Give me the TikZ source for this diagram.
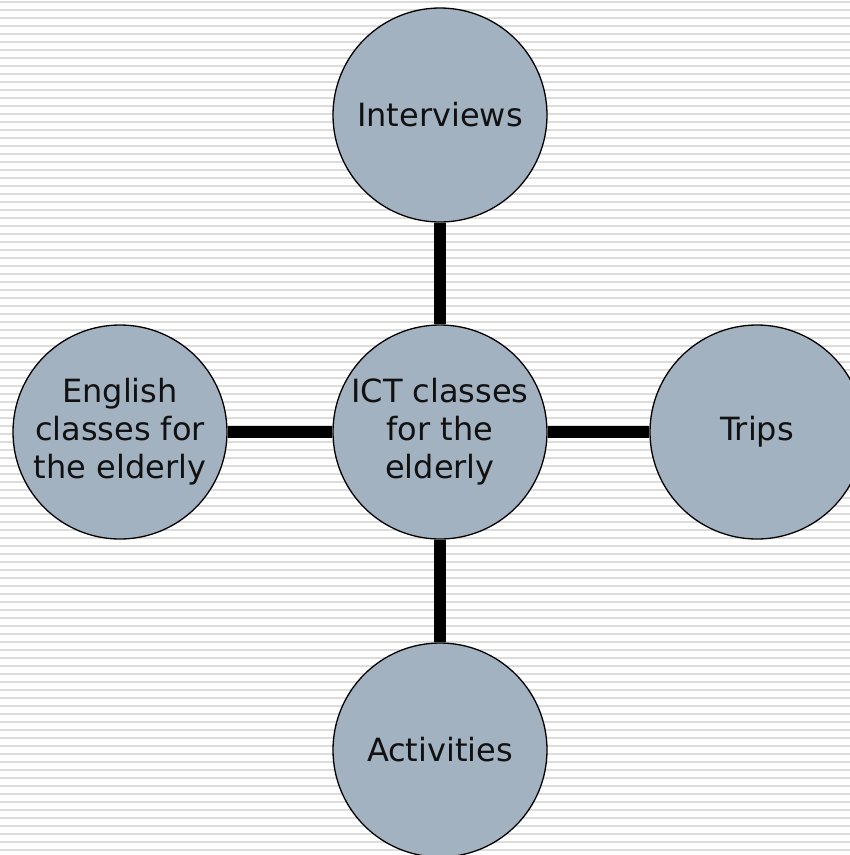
\documentclass[tikz,border=0pt]{standalone}
\usepackage{fontspec}
\setmainfont{DejaVu Sans}
\definecolor{stripe}{HTML}{DCDCDC}
\definecolor{bubble}{HTML}{A3B2C1}
\definecolor{ink}{HTML}{111111}
\begin{document}
\begin{tikzpicture}[x=1pt,y=-1pt,
  bubblenode/.style={circle, draw=black, line width=1.3pt, fill=bubble,
    minimum size=214pt, inner sep=0pt, align=center, text=ink,
    font=\fontsize{32}{38}\selectfont},
  link/.style={line width=12pt, draw=black}]
\useasboundingbox (0,0) rectangle (850,855);
\clip (0,0) rectangle (850,855);
\fill[white] (0,0) rectangle (850,855);
\foreach \k in {0,...,106} {
  \fill[stripe] (0,{1+8*\k}) rectangle (850,{3+8*\k});
}
\node[bubblenode] (ict) at (440,432) {ICT classes\\for the\\elderly};
\node[bubblenode] (int) at (440,115) {Interviews};
\node[bubblenode] (eng) at (120,432) {English\\classes for\\the elderly};
\node[bubblenode] (trp) at (757,432) {Trips};
\node[bubblenode] (act) at (440,750) {Activities};
\draw[link] (int.south) -- (ict.north);
\draw[link] (ict.south) -- (act.north);
\draw[link] (eng.east) -- (ict.west);
\draw[link] (ict.east) -- (trp.west);
\end{tikzpicture}
\end{document}
